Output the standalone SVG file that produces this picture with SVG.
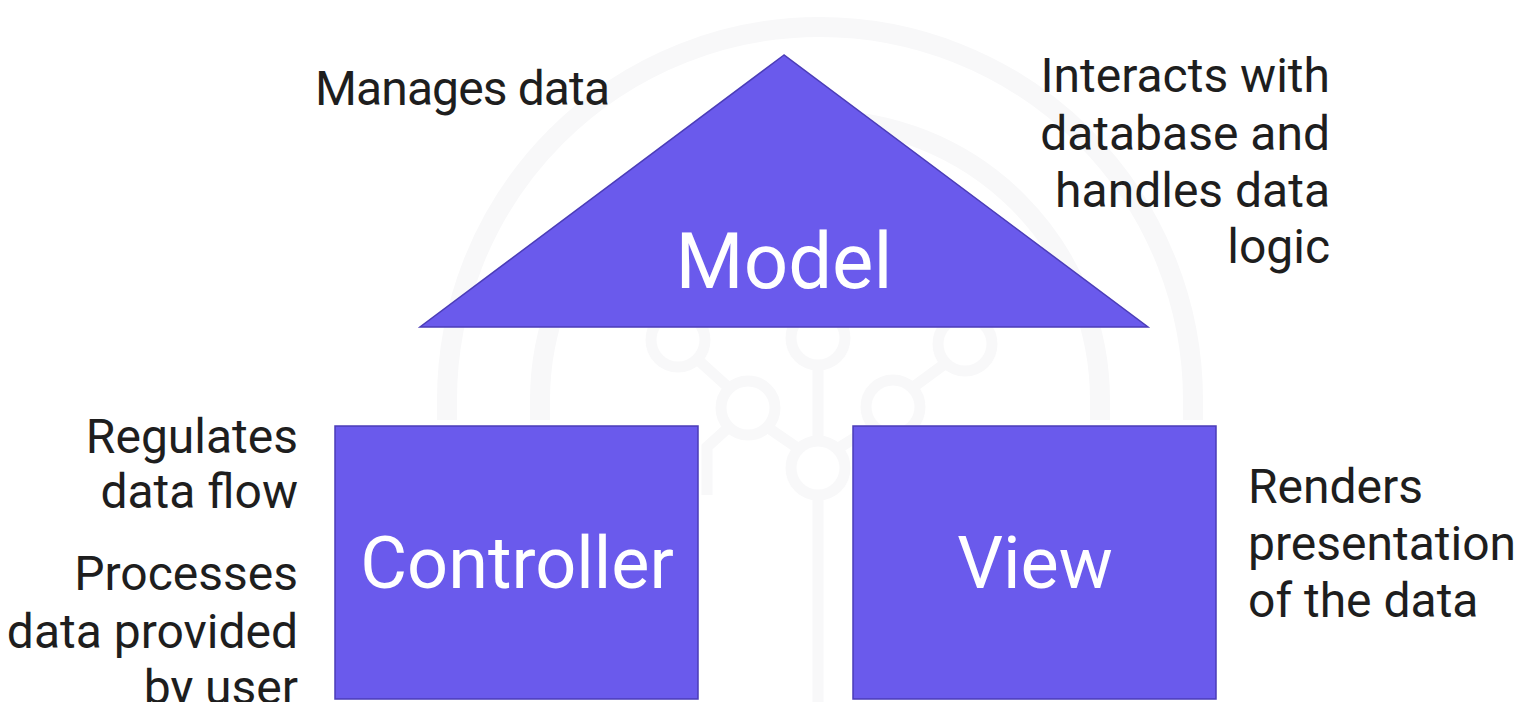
<svg xmlns="http://www.w3.org/2000/svg" width="1530" height="702" viewBox="0 0 1530 702">
<style>
.shape{fill:#6a5aec;stroke:#4b3db8;stroke-width:1.5}
.lbl{font-family:Roboto,"Noto Sans",sans-serif;fill:#ffffff;text-anchor:middle}
.note{font-family:Roboto,"Noto Sans",sans-serif;font-size:48px;fill:#1e1e1e}
.r{text-anchor:end}
.wm{fill:none;stroke:#f8f8f9;stroke-width:20}
.wmt{fill:none;stroke:#f8f8f9;stroke-width:11}
</style>
<rect width="1530" height="702" fill="#ffffff"/>
<g id="watermark">
<path class="wm" d="M447,420 L447,400 A373,373 0 0 1 1193,400 L1193,420"/>
<path class="wm" d="M540,420 L540,400 A280,280 0 0 1 1100,400 L1100,420"/>
<circle class="wmt" cx="678" cy="340" r="27"/>
<circle class="wmt" cx="818" cy="338" r="27"/>
<circle class="wmt" cx="965" cy="344" r="27"/>
<circle class="wmt" cx="748" cy="408" r="27"/>
<circle class="wmt" cx="893" cy="407" r="27"/>
<circle class="wmt" cx="818" cy="468" r="27"/>
<path class="wmt" d="M697,359 L729,388 M767,427 L799,449 M818,365 L818,441 M912,388 L946,363 M874,426 L837,449 M818,495 L818,702 M729,427 L707,447 L707,495"/>
</g>
<g id="connectors"/>
<g id="model">
<polygon class="shape" points="784,55 420,327 1148,327"/>
<text class="lbl" x="784" y="288" font-size="78">Model</text>
</g>
<g id="controller">
<rect class="shape" x="335" y="426" width="363" height="273"/>
<text class="lbl" x="517" y="588" font-size="72">Controller</text>
</g>
<g id="view">
<rect class="shape" x="853" y="426" width="363" height="273"/>
<text class="lbl" x="1035" y="588" font-size="72">View</text>
</g>
<g id="model-notes">
<text class="note" x="315" y="105" textLength="295">Manages data</text>
<text class="note r" x="1330" y="92">Interacts with</text>
<text class="note r" x="1330" y="150">database and</text>
<text class="note r" x="1330" y="207">handles data</text>
<text class="note r" x="1330" y="263">logic</text>
</g>
<g id="controller-notes">
<text class="note r" x="298" y="453">Regulates</text>
<text class="note r" x="298" y="508">data flow</text>
<text class="note r" x="298" y="590">Processes</text>
<text class="note r" x="298" y="648">data provided</text>
<text class="note r" x="298" y="704">by user</text>
</g>
<g id="view-notes">
<text class="note" x="1248" y="503">Renders</text>
<text class="note" x="1248" y="560">presentation</text>
<text class="note" x="1248" y="617">of the data</text>
</g>
</svg>
